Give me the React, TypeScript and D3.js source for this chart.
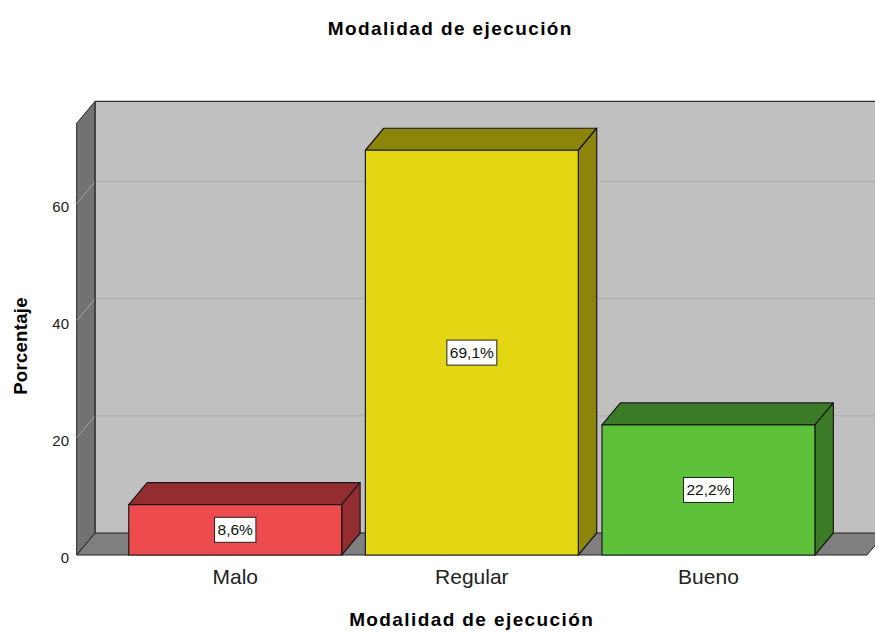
import React from 'react';
import * as d3 from 'd3';

const categories = ['Malo', 'Regular', 'Bueno'];
const percentages = [8.6, 69.1, 22.2];
const valueLabels = ['8,6%', '69,1%', '22,2%'];
const yTicks = [0, 20, 40, 60];
const frontColors = ['#ee4b4e', '#e3d713', '#5dc23a'];
const darkColors = ['#932d2f', '#8c840b', '#3b7a26'];

const W = 875;
const H = 632;
const DX = 18.4;
const DY = -22;
const FONT = "'Liberation Sans', Arial, sans-serif";

function measure(text: string, font: string): number {
  const c = document.createElement('canvas');
  const ctx = c.getContext('2d');
  if (!ctx) return text.length * 8;
  ctx.font = font;
  return ctx.measureText(text).width;
}

export default function App() {
  const x = d3.scaleBand<string>().domain(categories).range([76.7, 867]).paddingInner(0.1).paddingOuter(0.22);
  const y = d3.scaleLinear().domain([0, 73.7]).range([555, 123.3]);
  const y0 = y(0);
  const yTop = y(73.7);
  const left = 76.7;
  const right = 867;
  const pts = (a: number[][]) => a.map((p) => p.join(',')).join(' ');

  return (
    <svg width={W} height={H} style={{ position: 'absolute', left: 0, top: 0, background: '#fff' }} fontFamily={FONT}>
      <text x={450.3} y={35} textAnchor="middle" fontSize={19} fontWeight="bold" letterSpacing={1.4}>Modalidad de ejecución</text>

      {/* back wall */}
      <rect x={left + DX} y={yTop + DY} width={right - left + 20} height={y0 - yTop} fill="#c0c0c0" />
      {yTicks.filter((t) => t > 0).map((t) => (
        <line key={'gb' + t} x1={left + DX} x2={right + DX + 20} y1={y(t) + DY} y2={y(t) + DY} stroke="#b2b2b2" strokeWidth={1.5} />
      ))}
      <line x1={left + DX} x2={right + DX + 20} y1={yTop + DY} y2={yTop + DY} stroke="#333" strokeWidth={1.3} />

      {/* side wall */}
      <polygon points={pts([[left, yTop], [left + DX, yTop + DY], [left + DX, y0 + DY], [left, y0]])} fill="#727272" stroke="#222" strokeWidth={1} />
      {yTicks.filter((t) => t > 0).map((t) => (
        <line key={'gs' + t} x1={left} x2={left + DX} y1={y(t)} y2={y(t) + DY} stroke="#a6a6a6" strokeWidth={1} />
      ))}

      {/* floor */}
      <polygon points={pts([[left, y0], [left + DX, y0 + DY], [right + DX, y0 + DY], [right, y0]])} fill="#7f7f7f" stroke="#222" strokeWidth={1} />
      <line x1={left + DX} x2={left + DX} y1={yTop + DY} y2={y0 + DY} stroke="#333" strokeWidth={1} />

      {/* y tick labels */}
      {yTicks.map((t) => (
        <text key={'t' + t} x={69} y={y(t) + 8.4} textAnchor="end" fontSize={15} fill="#222">{t}</text>
      ))}

      {/* bars */}
      {categories.map((c, i) => {
        const x0 = x(c) as number;
        const x1 = x0 + x.bandwidth();
        const yv = y(percentages[i]);
        return (
          <g key={c} stroke="#1a1a1a" strokeWidth={1.2} strokeLinejoin="round">
            <polygon points={pts([[x0, yv], [x0 + DX, yv + DY], [x1 + DX, yv + DY], [x1, yv]])} fill={darkColors[i]} />
            <polygon points={pts([[x1, yv], [x1 + DX, yv + DY], [x1 + DX, y0 + DY], [x1, y0]])} fill={darkColors[i]} />
            <rect x={x0} y={yv} width={x1 - x0} height={y0 - yv} fill={frontColors[i]} />
          </g>
        );
      })}

      {/* value labels */}
      {categories.map((c, i) => {
        const cx = (x(c) as number) + x.bandwidth() / 2;
        const cy = (y(percentages[i]) + y0) / 2;
        const tw = measure(valueLabels[i], `15.5px ${FONT}`);
        const bw = tw + 6;
        return (
          <g key={'l' + c}>
            <rect x={cx - bw / 2} y={cy - 12.5} width={bw} height={25} fill="#fff" stroke="#222" strokeWidth={1} />
            <text x={cx} y={cy + 5.5} textAnchor="middle" fontSize={15.5} fill="#111">{valueLabels[i]}</text>
          </g>
        );
      })}

      {/* category labels */}
      {categories.map((c) => (
        <text key={'c' + c} x={(x(c) as number) + x.bandwidth() / 2} y={584} textAnchor="middle" fontSize={21} fill="#222">{c}</text>
      ))}

      <text x={471.7} y={626} textAnchor="middle" fontSize={19} fontWeight="bold" letterSpacing={1.4}>Modalidad de ejecución</text>
      <text transform="translate(26.5,346) rotate(-90)" textAnchor="middle" fontSize={18.5} fontWeight="bold" letterSpacing={0.3}>Porcentaje</text>
    </svg>
  );
}
